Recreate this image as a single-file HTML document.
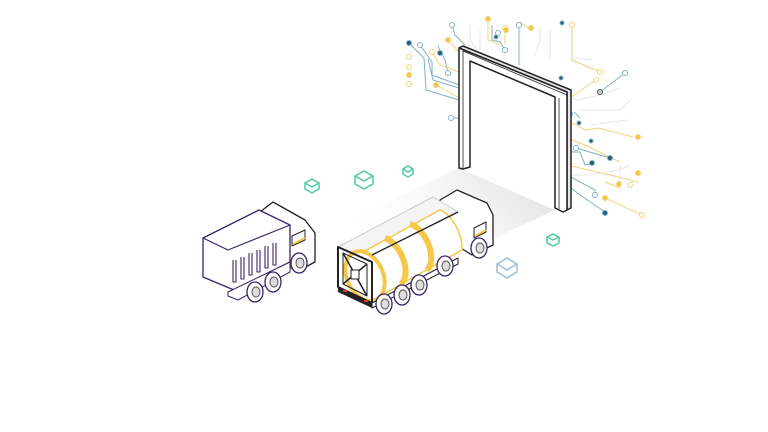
<!DOCTYPE html>
<html><head><meta charset="utf-8"><style>html,body{margin:0;padding:0;background:#fff}svg{display:block}</style></head>
<body>
<svg width="768" height="432" viewBox="0 0 768 432" xmlns="http://www.w3.org/2000/svg">
<defs>
<linearGradient id="fl" x1="1" y1="0" x2="0" y2="0.3">
<stop offset="0" stop-color="#dcdcdc"/><stop offset="1" stop-color="#ffffff" stop-opacity="0"/></linearGradient>
</defs>
<polygon points="459,168 555,210 480,245 300,245" fill="url(#fl)"/>
<g fill="none" stroke-width="1">
<g stroke="#7fb3c4">
<polyline points="409,43 424,58 426,90 459,100"/>
<polyline points="420,45 432,62 432,75 459,85"/>
<polyline points="452,25 455,35 465,45"/>
<polyline points="438,46 445,60 448,73"/>
<polyline points="428,59 433,80 459,88"/>
<polyline points="451,118 459,118"/>
<polyline points="492,25 492,40 500,42 505,50"/>
<polyline points="519,25 519,65"/>
<polyline points="570,152 580,152 585,165 595,163"/>
<polyline points="567,175 595,190 595,195"/>
<polyline points="567,185 580,195 605,212"/>
<polyline points="576,148 610,158"/>
<polyline points="574,112 580,118"/>
<polyline points="600,92 625,73"/>
</g>
<g stroke="#f5d27a">
<polyline points="436,85 459,98"/>
<polyline points="432,52 440,65 459,72"/>
<polyline points="448,40 459,52"/>
<polyline points="488,19 488,40 500,45"/>
<polyline points="505,28 505,45"/>
<polyline points="572,25 572,60 600,72"/>
<polyline points="567,100 596,80"/>
<polyline points="567,120 585,130 598,128 633,137"/>
<polyline points="567,138 585,145 620,162"/>
<polyline points="567,165 610,175 638,182"/>
<polyline points="605,182 620,188"/>
<polyline points="605,198 642,215"/>
<polyline points="520,22 528,28"/>
</g>
<g stroke="#e6e6e6">
<polyline points="470,25 470,40 480,55"/>
<polyline points="480,30 480,50"/>
<polyline points="540,25 540,40 535,55"/>
<polyline points="550,30 550,60"/>
<polyline points="575,58 592,60"/>
<polyline points="560,95 578,100 600,95 620,88"/>
<polyline points="580,110 620,110 630,100"/>
<polyline points="590,125 628,120"/>
<polyline points="567,175 590,175 620,170 630,165"/>
<polyline points="620,165 620,190"/>
</g>
</g>
<g stroke-width="1">
<g fill="#fff" stroke="#7fb3c4">
<circle cx="452" cy="25" r="2.5"/><circle cx="420" cy="45" r="2.5"/><circle cx="448" cy="73" r="2.5"/><circle cx="451" cy="118" r="2.5"/>
<circle cx="498" cy="33" r="2.5"/><circle cx="505" cy="50" r="2.5"/><circle cx="519" cy="25" r="2.5"/><circle cx="576" cy="148" r="2.5"/><circle cx="595" cy="195" r="2.5"/><circle cx="625" cy="73" r="2.5"/><circle cx="570" cy="114" r="2.5"/>
</g>
<g fill="#2b5f70" stroke="#7fb3c4">
<circle cx="409" cy="43" r="2.5"/><circle cx="440" cy="53" r="2.5"/><circle cx="496" cy="37" r="2"/><circle cx="562" cy="23" r="2"/><circle cx="561" cy="78" r="2"/><circle cx="579" cy="123" r="2"/><circle cx="591" cy="141" r="2"/><circle cx="592" cy="163" r="2.5"/><circle cx="610" cy="158" r="2.5"/><circle cx="605" cy="213" r="2.5"/>
</g>
<g fill="#fff" stroke="#f5d27a">
<circle cx="409" cy="57" r="2.5"/><circle cx="409" cy="67" r="2.5"/><circle cx="409" cy="84" r="2.5"/><circle cx="432" cy="52" r="2.5"/><circle cx="505" cy="28" r="2.5"/><circle cx="572" cy="25" r="2.5"/><circle cx="600" cy="72" r="2.5"/><circle cx="596" cy="80" r="2.5"/><circle cx="630" cy="185" r="2.5"/><circle cx="642" cy="215" r="2.5"/>
</g>
<g fill="#f5c84a" stroke="#f5d27a">
<circle cx="409" cy="75" r="2.5"/><circle cx="436" cy="85" r="2.5"/><circle cx="448" cy="40" r="2.5"/><circle cx="488" cy="19" r="2.5"/><circle cx="506" cy="30" r="2.5"/><circle cx="531" cy="28" r="2.5"/><circle cx="638" cy="137" r="2.5"/><circle cx="638" cy="173" r="2.5"/><circle cx="619" cy="184" r="2.5"/><circle cx="605" cy="198" r="2.5"/>
</g>
<circle cx="600" cy="92" r="2.5" fill="#ccc" stroke="#555"/>
</g>
<!-- gate -->
<g stroke="#222" stroke-width="1.5" fill="#fff" stroke-linejoin="round">
<polygon points="459,48 463,46 571,90 571,208 567,210 567,92" fill="#e8e8e8"/>
<polygon points="459,168 459,48 567,92 567,210 563,212 555,208 555,97 470,61 470,167 463,169"/>
<polyline points="463,50 463,168" fill="none" stroke-width="0.8"/>
<polyline points="463,51 567,95" fill="none" stroke-width="0.8"/>
<polyline points="559,98 559,209" fill="none" stroke-width="0.8"/>
</g>
<!-- cubes -->
<g fill="none" stroke-width="1.5" stroke-linejoin="round">
<g stroke="#4cc9a3">
<polygon points="312,179 319,183 319,189 312,193 305,189 305,183"/><polyline points="305,183 312,187 319,183 M312,187 312,193"/>
<polygon points="364,171 373,176 373,184 364,189 355,184 355,176"/><polyline points="355,176 364,181 373,176 M364,181 364,189"/>
<polygon points="408,166 413,169 413,174 408,177 403,174 403,169"/><polyline points="403,169 408,172 413,169"/>
<polygon points="553,234 559,237 559,243 553,246 547,243 547,237"/><polyline points="547,237 553,240 559,237"/>
</g>
<g stroke="#9cbfdc">
<polygon points="507,258 517,264 517,272 507,278 497,272 497,264"/><polyline points="497,264 507,270 517,264 M507,270 507,278"/>
</g>
</g>
<!-- left truck -->
<g stroke-linejoin="round">
<polygon points="260,212 273,202 305,220 315,233 315,262 296,272 260,240" fill="#fff" stroke="#222" stroke-width="1.3"/>
<polygon points="292,236 305,230 305,240 292,246" fill="#fff" stroke="#222"/>
<line x1="293" y1="244" x2="305" y2="238" stroke="#f5c84a" stroke-width="2"/>
<polygon points="203,238 259,210 290,225 290,262 234,290 203,277" fill="#fff" stroke="#3a2468" stroke-width="1.3"/>
<polyline points="203,238 228,250 290,225 M228,250 228,292" fill="none" stroke="#3a2468" stroke-width="1.2"/>
<polygon points="228,292 290,262 290,272 238,300 228,296" fill="#fff" stroke="#3a2468"/>
<g stroke="#3a2468" fill="none" stroke-width="1.1">
<path d="M233 260 v22 h3 v-22 M241 257 v22 h3 v-22 M249 253 v22 h3 v-22 M257 250 v22 h3 v-22 M265 246 v22 h3 v-22 M273 243 v22 h3 v-22"/>
</g>
<g fill="#fff" stroke="#3a2468" stroke-width="1.3">
<ellipse cx="255" cy="292" rx="8" ry="10"/><ellipse cx="273" cy="282" rx="8" ry="10"/><ellipse cx="299" cy="263" rx="8" ry="10"/>
</g>
<g fill="#ddd" stroke="#555"><ellipse cx="256" cy="292" rx="4" ry="5"/><ellipse cx="274" cy="282" rx="4" ry="5"/><ellipse cx="300" cy="263" rx="4" ry="5"/></g>
</g>
<!-- tanker -->
<g stroke-linejoin="round">
<polygon points="440,200 457,190 487,203 493,215 493,245 472,255 440,235" fill="#fff" stroke="#222" stroke-width="1.3"/>
<polygon points="474,228 486,222 486,232 474,238" fill="#fff" stroke="#222"/>
<line x1="475" y1="236" x2="486" y2="230" stroke="#f5c84a" stroke-width="2"/>
<polygon points="338,247 433,197 458,212 372,262" fill="#f4f4f4" stroke="#ccc"/>
<path d="M352 258 L440 210 A13 27 -25 0 1 462 250 L380 296 Z" fill="#fff" stroke="#f5c84a" stroke-width="1.5"/>
<ellipse cx="365" cy="276" rx="18" ry="26" transform="rotate(-25 365 276)" fill="#fff" stroke="#f5c84a" stroke-width="4"/>
<path d="M385 238 A15 26 -25 0 1 401 284" fill="none" stroke="#f5c84a" stroke-width="6"/>
<path d="M410 224 A15 26 -25 0 1 427 270" fill="none" stroke="#f5c84a" stroke-width="6"/>
<line x1="372" y1="255" x2="458" y2="212" stroke="#222" stroke-width="1.3"/>
<polygon points="338,247 372,262 372,303 338,287" fill="none" stroke="#222" stroke-width="2"/>
<polygon points="343,253 367,264 367,296 343,284" fill="none" stroke="#222" stroke-width="1"/>
<path d="M343 253 L367 296 M367 264 L343 284" stroke="#222" stroke-width="1.5"/>
<rect x="351" y="270" width="8" height="9" fill="#fff" stroke="#222"/>
<polygon points="338,287 372,303 372,308 338,292" fill="#222"/>
<rect x="343" y="290" width="4" height="2" fill="#d33"/><rect x="364" y="300" width="4" height="2" fill="#d33"/>
<polygon points="372,303 458,258 458,264 372,308" fill="#fff" stroke="#222"/>
<g fill="#fff" stroke="#3a2468" stroke-width="1.3">
<ellipse cx="384" cy="304" rx="8" ry="10"/><ellipse cx="402" cy="295" rx="8" ry="10"/><ellipse cx="419" cy="285" rx="8" ry="10"/><ellipse cx="445" cy="266" rx="8" ry="10"/><ellipse cx="479" cy="248" rx="8" ry="10"/>
</g>
<g fill="#ddd" stroke="#555"><ellipse cx="385" cy="304" rx="4" ry="5"/><ellipse cx="403" cy="295" rx="4" ry="5"/><ellipse cx="420" cy="285" rx="4" ry="5"/><ellipse cx="446" cy="266" rx="4" ry="5"/><ellipse cx="480" cy="248" rx="4" ry="5"/></g>
</g>
</svg>
</body></html>
